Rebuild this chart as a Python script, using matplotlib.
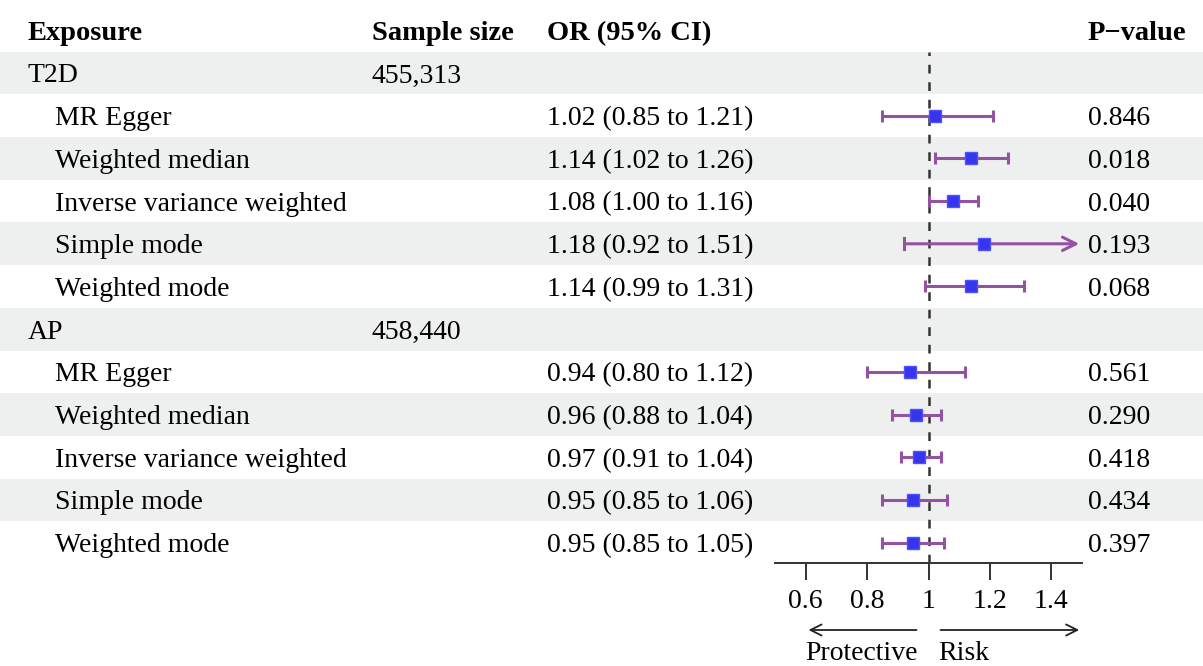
import matplotlib.pyplot as plt
import matplotlib.transforms as mtransforms

plt.rcParams['font.family'] = ['Liberation Serif', 'DejaVu Serif']

# data
labels = ['T2D', 'MR Egger', 'Weighted median', 'Inverse variance weighted', 'Simple mode', 'Weighted mode',
          'AP', 'MR Egger', 'Weighted median', 'Inverse variance weighted', 'Simple mode', 'Weighted mode']
is_group = [True, False, False, False, False, False, True, False, False, False, False, False]
sample_size = ['455,313', '', '', '', '', '', '458,440', '', '', '', '', '']
or_est = [None, 1.02, 1.14, 1.08, 1.18, 1.14, None, 0.94, 0.96, 0.97, 0.95, 0.95]
ci_low = [None, 0.85, 1.02, 1.00, 0.92, 0.99, None, 0.80, 0.88, 0.91, 0.85, 0.85]
ci_high = [None, 1.21, 1.26, 1.16, 1.51, 1.31, None, 1.12, 1.04, 1.04, 1.06, 1.05]
pvals = ['', '0.846', '0.018', '0.040', '0.193', '0.068', '', '0.561', '0.290', '0.418', '0.434', '0.397']
xticks = [0.6, 0.8, 1, 1.2, 1.4]
xlim = (0.5, 1.5)

W, H = 1203, 666
row_px, row0_px = 42.7, 73
fig = plt.figure(figsize=(W / 100, H / 100), dpi=100)

# background / table axes: x in pixels, y in row units
ax0 = fig.add_axes([0, 0, 1, 1])
ax0.set_xlim(0, W)
ax0.set_ylim((H - row0_px) / row_px, -row0_px / row_px)
ax0.axis('off')

fs = 20
dy = 0.07  # small downward nudge so text sits like the reference
stripe = '#eef0ef'
n = len(labels)
for i in range(n):
    if i % 2 == 0:
        ax0.axhspan(i - 0.5, i + 0.5, color=stripe, lw=0, zorder=0)
    x = 28 if is_group[i] else 55
    ax0.text(x, i + dy, labels[i], fontsize=fs, va='center')
    if sample_size[i]:
        ax0.text(372, i + dy, sample_size[i], fontsize=fs, va='center')
    if or_est[i] is not None:
        ax0.text(547, i + dy, f'{or_est[i]:.2f} ({ci_low[i]:.2f} to {ci_high[i]:.2f})', fontsize=fs, va='center')
    ax0.text(1088, i + dy, pvals[i], fontsize=fs, va='center')

for x, t in [(28, 'Exposure'), (372, 'Sample size'), (547, 'OR (95% CI)'), (1088, 'P\u2212value')]:
    ax0.text(x, -1 + dy, t, fontsize=fs + 0.5, fontweight='bold', va='center')

# forest axes
left, right = 775 / W, 1082 / W
top_px, bot_px = row0_px - row_px / 2, 563
ax = fig.add_axes([left, 1 - bot_px / H, right - left, (bot_px - top_px) / H])
ax.patch.set_alpha(0)
ax.set_xlim(*xlim)
ax.set_ylim((bot_px - row0_px) / row_px, -0.5)
for s in ['top', 'left', 'right']:
    ax.spines[s].set_visible(False)
ax.spines['bottom'].set_color('#333333')
ax.spines['bottom'].set_linewidth(1.4)
ax.set_yticks([])
ax.set_xticks(xticks)
ax.set_xticklabels([f'{t:g}' for t in xticks])
ax.tick_params(axis='x', direction='out', length=12, width=1.4, color='#333333', labelsize=fs, pad=7)

ax.axvline(1, color='#333333', ls=(0, (3.5, 3.5)), lw=1.8, zorder=1)

line_c = '#9552a5'
box_c = '#3535ee'
for i in range(n):
    if or_est[i] is None:
        continue
    lo, hi = ci_low[i], ci_high[i]
    if hi > xlim[1]:
        ax.annotate('', xy=(xlim[1], i), xytext=(lo, i),
                    arrowprops=dict(arrowstyle='->', color=line_c, lw=2.2, mutation_scale=24), zorder=2)
        ax.plot([lo, lo], [i - 0.13, i + 0.13], color=line_c, lw=2.2, zorder=2)
    else:
        ax.errorbar(or_est[i], i, xerr=[[or_est[i] - lo], [hi - or_est[i]]], fmt='none',
                    ecolor=line_c, elinewidth=2.2, capsize=4.5, capthick=2.2, zorder=2)
    ax.plot(or_est[i], i, marker='s', ms=9, color=box_c, mec='#5050ff', zorder=3)

# direction arrows below the axis
trans = mtransforms.blended_transform_factory(ax.transData, ax0.transData)
ya = (630 - row0_px) / row_px
yl = (653 - row0_px) / row_px
ax.annotate('', xy=(0.6, ya), xytext=(0.97, ya), xycoords=trans, textcoords=trans,
            arrowprops=dict(arrowstyle='->', color='#222222', lw=1.3, mutation_scale=20), annotation_clip=False)
ax.annotate('', xy=(1.5, ya), xytext=(1.03, ya), xycoords=trans, textcoords=trans,
            arrowprops=dict(arrowstyle='->', color='#222222', lw=1.3, mutation_scale=20), annotation_clip=False)
ax.text(0.6, yl, 'Protective', transform=trans, fontsize=fs, va='center', ha='left')
ax.text(1.03, yl, 'Risk', transform=trans, fontsize=fs, va='center', ha='left')

fig.savefig('out.png', dpi=100)
